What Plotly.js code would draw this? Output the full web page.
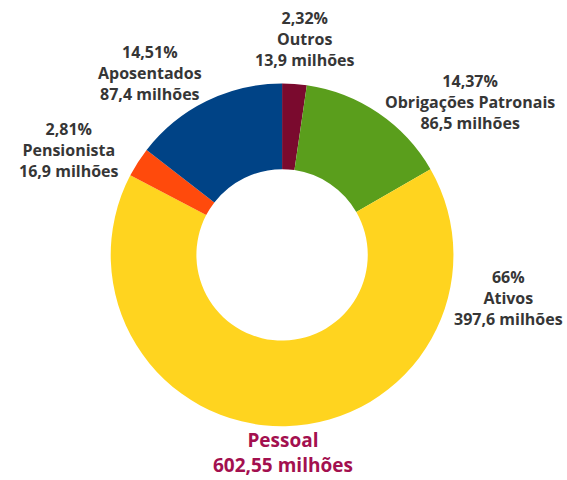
<!DOCTYPE html>
<html>
<head>
<meta charset="utf-8">
<script src="https://cdn.plot.ly/plotly-3.0.1.min.js"></script>
<style>html,body{margin:0;padding:0;background:#fff;}#chart{width:567px;height:480px;}</style>
</head>
<body>
<div id="chart"></div>
<script>
const categories = ["Outros", "Obrigações Patronais", "Ativos", "Pensionista", "Aposentados"];
const valuesMilhoes = [13.9, 86.5, 397.6, 16.9, 87.4];
const percentLabels = ["2,32%", "14,37%", "66%", "2,81%", "14,51%"];
const valueLabels = ["13,9 milhões", "86,5 milhões", "397,6 milhões", "16,9 milhões", "87,4 milhões"];
const colors = ["#7A0A2E", "#5A9E1C", "#FFD41F", "#FF4A0C", "#004386"];
const totalLabel = ["Pessoal", "602,55 milhões"];

// label anchor positions (paper coords)
const labelPos = [
  [0.538, 0.919],
  [0.829, 0.788],
  [0.896, 0.379],
  [0.122, 0.688],
  [0.265, 0.848]
];

const font = "'Open Sans', 'Noto Sans', sans-serif";

const annotations = categories.map((c, i) => ({
  xref: "paper", yref: "paper",
  x: labelPos[i][0], y: labelPos[i][1],
  xanchor: "center", yanchor: "middle", align: "center",
  showarrow: false, borderpad: 0,
  text: "<b>" + percentLabels[i] + "<br>" + c + "<br>" + valueLabels[i] + "</b>",
  font: {family: font, size: 16, color: "#363636"}
}));
annotations.push({
  xref: "paper", yref: "paper", x: 0.499, y: 0.002,
  xanchor: "center", yanchor: "bottom", align: "center", showarrow: false, borderpad: 0,
  text: "<b>" + totalLabel.join("<br>") + "</b>",
  font: {family: font, size: 19, color: "#A3104F"}
});

const trace = {
  type: "pie",
  labels: categories,
  values: valuesMilhoes,
  marker: {colors: colors, line: {width: 0}},
  hole: 0.5,
  sort: false,
  direction: "clockwise",
  rotation: 0,
  textinfo: "none",
  hoverinfo: "label+value",
  domain: {x: [0.194, 0.801], y: [0.112, 0.826]}
};

const layout = {
  width: 567, height: 480,
  margin: {l: 0, r: 0, t: 0, b: 0},
  showlegend: false,
  paper_bgcolor: "#ffffff",
  annotations: annotations
};

Plotly.newPlot("chart", [trace], layout, {displayModeBar: false, staticPlot: true});
</script>
</body>
</html>
